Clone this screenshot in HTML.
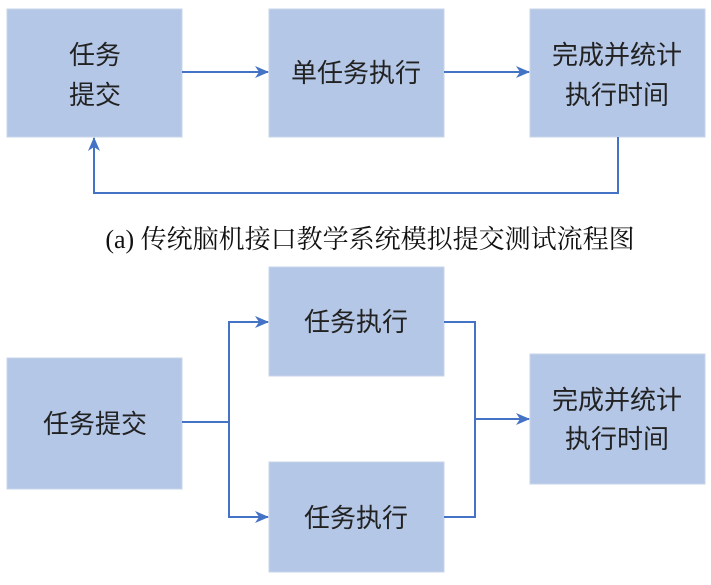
<!DOCTYPE html>
<html><head><meta charset="utf-8"><style>
body{margin:0;background:#fff;width:711px;height:580px;overflow:hidden}
</style></head><body>
<svg width="711" height="580" xmlns="http://www.w3.org/2000/svg">
<defs><marker id="a" markerWidth="14" markerHeight="12" refX="13" refY="6" orient="auto" markerUnits="userSpaceOnUse"><path d="M0,0 L14,6 L0,12 L4,6 Z" fill="#4472c4"/></marker></defs>
<g fill="#b4c7e7" stroke="#c8d5ea" stroke-width="1">
<rect x="7" y="9" width="175" height="128"/>
<rect x="269" y="9" width="175" height="128"/>
<rect x="530" y="9" width="175" height="128"/>
<rect x="7" y="358" width="175" height="131"/>
<rect x="269" y="267" width="175" height="109"/>
<rect x="269" y="462" width="175" height="110"/>
<rect x="530" y="354" width="175" height="130"/>
</g>
<g stroke="#4472c4" stroke-width="2" fill="none">
<line x1="182" y1="72" x2="268" y2="72" marker-end="url(#a)"/>
<line x1="444" y1="72" x2="529" y2="72" marker-end="url(#a)"/>
<polyline points="618,137 618,193 94,193 94,138" marker-end="url(#a)"/>
<line x1="182" y1="422" x2="229" y2="422"/>
<polyline points="268,322 229,322 229,517 268,517"/>
<line x1="229" y1="322" x2="268" y2="322" marker-end="url(#a)"/>
<line x1="229" y1="517" x2="268" y2="517" marker-end="url(#a)"/>
<polyline points="444,322 475,322 475,517 444,517"/>
<line x1="475" y1="419" x2="529" y2="419" marker-end="url(#a)"/>
</g>
<g font-family="'Liberation Sans','Noto Sans CJK SC',sans-serif" font-size="26" fill="#222" text-anchor="middle">
<text x="95" y="64">任务</text>
<text x="95" y="104">提交</text>
<text x="356" y="82">单任务执行</text>
<text x="617" y="64">完成并统计</text>
<text x="617" y="104">执行时间</text>
<text x="95" y="433">任务提交</text>
<text x="356" y="331">任务执行</text>
<text x="356" y="527">任务执行</text>
<text x="617" y="409">完成并统计</text>
<text x="617" y="448">执行时间</text>
</g>
<text x="370" y="248" text-anchor="middle" font-family="'Liberation Serif','Noto Serif CJK SC',serif" font-size="26" fill="#111">(a) 传统脑机接口教学系统模拟提交测试流程图</text>
</svg>
</body></html>
